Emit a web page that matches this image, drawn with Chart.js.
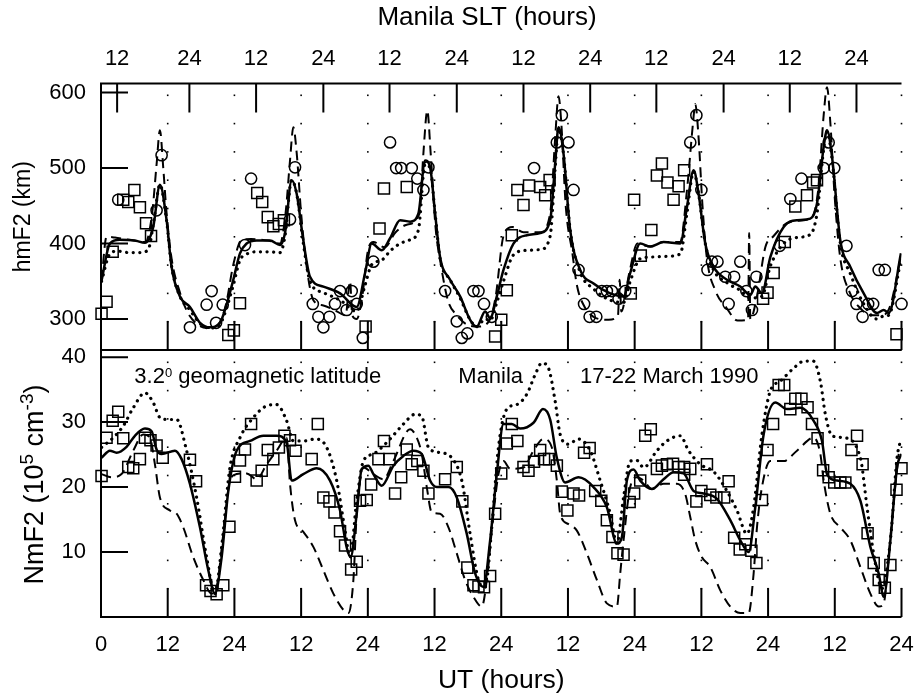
<!DOCTYPE html>
<html>
<head>
<meta charset="utf-8">
<script src="https://cdn.jsdelivr.net/npm/chart.js@4.4.1/dist/chart.umd.min.js"></script>
<style>
  html, body { margin: 0; padding: 0; background: #fff; }
  #wrap { position: relative; width: 917px; height: 697px; }
  canvas { position: absolute; left: 0; }
</style>
</head>
<body>
<div id="wrap">
  <canvas id="hmChart" width="917" height="360" style="top:0"></canvas>
  <canvas id="nmChart" width="917" height="357" style="top:340px"></canvas>
</div>
<script>
// axes
const utTicks = [0, 12, 24, 36, 48, 60, 72, 84, 96, 108, 120, 132, 144];
const utTickLabels = ["0", "12", "24", "12", "24", "12", "24", "12", "24", "12", "24", "12", "24"];
const sltTicksUT = [2.9, 15.9, 27.9, 40.0, 51.9, 64.0, 76.0, 88.0, 99.9, 112.0, 123.9, 135.9];
const sltTickLabels = ["12", "24", "12", "24", "12", "24", "12", "24", "12", "24", "12", "24"];
const gridHours = [12, 24, 36, 48, 60, 72, 84, 96, 108, 120, 132, 144];
const hmTicks = [300, 400, 500, 600];
const nmTicks = [10, 20, 30, 40];

// hmF2 (km) vs UT (hours)
const hmCircles = [[3.1,458],[10.0,444],[10.9,517],[16.0,289],[19.0,319],[19.9,337],[20.7,295],[21.9,319],[25.9,398],[27.0,486],[34.0,432],[34.9,501],[38.1,320],[39.1,303],[40.0,289],[41.1,303],[42.1,320],[43.0,337],[44.2,312],[45.1,337],[46.0,320],[47.1,275],[49.0,376],[52.0,534],[53.1,500],[54.0,500],[55.9,500],[56.9,486],[58.0,471],[58.9,501],[61.9,337],[64.0,297],[64.9,275],[65.9,281],[67.0,337],[67.9,337],[68.9,320],[70.3,303],[77.9,500],[82.0,534],[82.9,570],[84.1,534],[85.0,471],[85.9,365],[86.9,320],[87.9,303],[89.1,303],[90.1,337],[91.0,337],[91.9,337],[93.1,327],[94.3,337],[106.0,534],[107.1,570],[108.0,471],[109.1,365],[109.9,376],[110.9,376],[112.3,356],[112.9,320],[113.9,356],[115.0,376],[116.1,337],[117.1,312],[117.9,356],[122.1,397],[124.0,459],[126.0,486],[130.0,500],[130.9,534],[131.9,500],[134.1,397],[135.1,337],[135.9,320],[137.0,303],[138.0,320],[138.9,320],[139.9,365],[141.0,365],[144.0,320]];
const hmSquares = [[0.1,307],[1.0,323],[2.1,389],[4.0,458],[4.9,455],[6.0,471],[7.0,448],[8.1,427],[9.0,410],[22.9,279],[23.9,285],[25.0,321],[28.1,467],[29.0,455],[30.0,435],[31.0,423],[32.0,426],[32.9,431],[47.6,290],[50.1,420],[50.9,473],[55.0,475],[70.9,277],[72.0,299],[73.0,338],[73.9,411],[74.9,471],[76.0,451],[77.0,477],[79.0,475],[79.9,464],[80.7,484],[95.3,334],[95.9,458],[97.1,384],[99.0,418],[100.0,490],[100.9,506],[101.9,481],[103.0,458],[103.9,476],[104.9,497],[119.1,327],[119.9,335],[121.0,361],[123.0,402],[124.9,449],[127.0,464],[128.1,481],[128.8,484],[143.1,280]];
const hmSolid = [[0.1,351],[1.6,400],[3.4,405],[6.1,404],[7.9,401],[9.4,422],[10.6,478],[11.8,431],[12.7,369],[14.2,330],[16.0,316],[17.8,295],[19.6,289],[21.4,295],[22.3,312],[23.8,352],[25.0,387],[26.2,400],[28.0,404],[30.4,404],[32.2,398],[33.1,414],[34.3,484],[35.2,466],[36.4,404],[37.6,356],[40.0,343],[43.0,334],[46.0,316],[47.5,361],[48.7,400],[50.5,391],[52.0,407],[53.8,431],[55.6,429],[57.1,440],[58.3,510],[59.2,501],[60.1,440],[61.0,382],[62.8,352],[64.6,330],[66.4,299],[67.6,290],[69.1,310],[70.0,301],[71.2,330],[72.4,365],[74.2,400],[76.6,411],[79.0,414],[80.8,431],[81.7,506],[82.3,554],[83.2,519],[84.4,418],[86.2,365],[88.6,347],[91.6,334],[94.0,330],[95.2,361],[97.0,400],[98.8,396],[101.2,402],[104.2,400],[105.4,448],[106.6,497],[107.5,466],[108.7,400],[110.2,369],[112.6,352],[115.0,343],[116.8,332],[117.7,343],[118.9,334],[120.4,382],[122.8,422],[125.2,431],[127.6,433],[128.8,453],[130.0,528],[130.6,550],[131.5,515],[133.0,404],[134.8,369],[137.2,334],[139.6,308],[140.8,312],[141.7,308],[143.9,387]];
const hmDotted = [[0.1,350],[1.5,385],[3.0,390],[5.0,388],[7.0,388],[8.5,392],[9.5,430],[10.6,478],[11.8,430],[12.7,370],[14.2,330],[16.0,312],[17.8,294],[19.6,288],[21.4,293],[22.3,308],[23.8,345],[25.0,378],[26.2,386],[28.0,389],[30.4,389],[32.2,388],[33.1,410],[34.3,484],[35.2,466],[36.4,400],[37.6,350],[40.0,335],[43.0,325],[46.0,310],[47.5,345],[48.7,372],[50.5,378],[52.0,390],[53.8,400],[55.6,405],[57.1,418],[58.3,505],[59.2,500],[60.1,440],[61.0,380],[62.8,352],[64.6,328],[66.4,299],[67.6,290],[69.1,300],[70.0,298],[71.2,322],[72.4,350],[74.2,385],[76.6,391],[79.0,392],[80.8,410],[81.7,500],[82.3,552],[83.2,518],[84.4,418],[86.2,362],[88.6,340],[91.6,325],[94.0,322],[95.2,350],[97.0,380],[98.8,382],[101.2,383],[104.2,386],[105.4,440],[106.6,495],[107.5,466],[108.7,400],[110.2,365],[112.6,348],[115.0,338],[116.8,328],[118.9,330],[120.4,370],[122.8,400],[125.2,408],[127.6,412],[128.8,440],[130.0,525],[130.6,548],[131.5,512],[133.0,400],[134.8,360],[137.2,320],[139.6,300],[140.8,304],[141.7,305],[143.8,375]];
const hmDashed = [[0.1,352],[1.0,409],[2.5,408],[5.0,405],[8.0,402],[9.2,440],[10.0,505],[10.6,550],[11.2,500],[11.8,440],[12.7,380],[14.2,335],[15.5,310],[17.0,295],[19.0,288],[21.0,292],[22.5,320],[23.8,372],[25.3,405],[27.0,406],[30.0,404],[32.2,400],[33.2,440],[34.0,510],[34.6,554],[35.2,520],[36.0,440],[37.0,369],[38.2,325],[40.0,318],[42.0,312],[44.0,305],[44.8,350],[45.2,305],[46.0,300],[47.0,330],[48.0,390],[49.0,402],[51.0,395],[53.0,415],[55.0,425],[57.3,440],[58.0,520],[58.7,576],[59.3,520],[60.2,420],[61.0,378],[62.4,325],[64.0,305],[66.0,292],[68.0,290],[70.0,300],[71.0,330],[72.4,410],[74.0,422],[76.0,415],[79.0,415],[80.8,440],[81.7,540],[82.3,595],[82.8,560],[83.6,450],[84.8,387],[85.6,345],[87.0,316],[88.6,303],[91.3,299],[93.0,305],[93.3,352],[93.6,310],[95.0,360],[96.5,400],[98.8,396],[101.2,402],[104.2,402],[105.4,470],[106.5,560],[106.9,585],[107.5,540],[108.2,450],[109.0,380],[110.5,338],[112.5,315],[114.5,298],[116.4,299],[116.6,414],[116.8,300],[118.0,330],[119.5,395],[121.0,410],[123.0,425],[125.0,430],[127.6,433],[129.0,470],[130.0,570],[130.6,607],[131.2,560],[132.0,460],[133.0,380],[134.7,335],[136.5,315],[138.5,305],[140.5,305],[142.0,318],[143.8,380]];

// NmF2 (10^5 cm^-3) vs UT (hours)
const nmSquares = [[0.1,21.7],[1.0,27.6],[2.1,30.2],[3.1,31.6],[4.0,27.5],[4.9,23.1],[5.8,22.9],[7.0,24.3],[7.9,27.6],[8.9,27.2],[10.0,26.4],[11.1,24.5],[16.0,24.2],[17.1,20.9],[18.9,4.9],[19.7,4.0],[20.8,3.5],[22.0,4.9],[23.1,13.9],[24.1,21.6],[25.0,24.1],[25.9,25.8],[27.0,29.7],[28.0,21.0],[28.9,22.5],[30.0,25.7],[31.0,24.3],[32.0,26.1],[33.0,27.9],[34.0,27.2],[35.0,25.6],[37.9,24.3],[39.0,29.7],[40.0,18.4],[41.1,17.8],[42.0,16.1],[43.0,13.2],[43.9,11.0],[45.0,7.3],[46.0,8.5],[46.6,17.9],[47.8,18.0],[48.6,20.4],[49.9,24.3],[50.9,27.1],[51.9,24.3],[52.9,19.0],[54.0,21.5],[55.0,25.8],[55.9,23.5],[56.9,24.0],[58.0,22.5],[58.9,19.0],[61.9,21.2],[64.0,23.1],[65.0,17.8],[65.9,7.6],[67.0,4.9],[67.9,4.7],[68.9,4.6],[70.0,6.3],[70.9,15.9],[72.0,22.1],[73.0,26.7],[73.9,29.7],[74.9,27.1],[76.0,23.1],[76.9,22.5],[77.9,23.9],[79.0,25.7],[79.7,24.3],[80.6,24.3],[82.0,23.3],[82.9,19.3],[83.9,16.4],[85.0,19.0],[86.0,18.7],[86.9,25.3],[87.9,26.0],[88.9,19.4],[90.0,17.9],[91.0,14.9],[92.0,12.3],[92.9,9.8],[94.0,9.6],[95.1,17.7],[95.9,19.0],[97.0,21.0],[97.9,27.9],[98.9,28.9],[100.0,22.8],[100.9,23.3],[101.8,23.5],[102.9,23.6],[103.9,23.1],[104.9,23.1],[104.9,21.9],[106.0,22.8],[107.1,17.8],[108.0,19.4],[109.0,23.5],[109.6,18.8],[110.7,18.4],[112.1,18.4],[112.9,20.9],[113.9,12.2],[114.9,10.4],[115.9,11.2],[117.0,10.2],[117.9,8.3],[118.9,18.0],[119.9,25.7],[120.9,29.7],[121.9,35.7],[122.9,35.7],[124.0,32.0],[124.9,33.6],[126.0,33.6],[127.1,32.3],[127.9,29.7],[128.9,27.5],[129.9,22.6],[130.9,21.5],[131.9,20.7],[133.0,20.7],[133.9,20.7],[135.0,25.7],[136.0,27.9],[137.0,23.5],[137.9,12.9],[139.0,8.3],[139.9,5.7],[141.0,4.5],[142.0,8.0],[143.1,19.6],[144.0,22.9]];
const nmSolid = [[0.1,24.5],[1.6,25.6],[2.8,25.3],[4.6,26.2],[6.1,27.9],[7.9,29.0],[9.1,28.6],[10.0,25.8],[10.9,25.1],[13.3,25.6],[14.5,24.3],[16.0,20.5],[17.8,13.8],[19.3,7.2],[20.5,3.6],[21.7,9.2],[22.9,19.4],[24.4,25.6],[26.8,27.1],[29.2,27.9],[31.6,27.9],[33.4,26.8],[34.3,21.0],[36.4,22.0],[38.8,22.9],[41.2,21.0],[43.0,16.4],[44.2,10.7],[44.9,9.2],[46.0,15.9],[46.9,22.8],[48.1,23.3],[49.0,22.0],[50.5,20.2],[52.6,23.3],[54.4,24.8],[56.2,25.6],[57.7,25.1],[59.2,21.0],[60.4,20.0],[62.5,20.0],[64.0,18.4],[65.8,12.8],[67.3,6.7],[68.8,4.6],[70.0,11.8],[71.2,22.0],[72.4,29.7],[73.9,29.7],[75.4,29.0],[77.8,29.9],[79.5,32.0],[80.8,30.4],[82.0,24.5],[83.5,20.7],[85.9,21.5],[88.6,20.0],[91.0,16.9],[92.8,11.3],[93.7,12.3],[94.6,21.0],[95.8,22.7],[97.0,21.0],[99.1,19.7],[101.2,21.2],[103.0,22.3],[104.8,22.1],[106.6,19.4],[108.4,19.0],[110.8,18.2],[113.2,14.9],[115.0,11.8],[116.5,10.0],[117.7,16.9],[119.2,28.1],[121.3,33.0],[123.4,32.0],[125.8,32.2],[128.2,30.2],[129.7,27.1],[130.6,22.0],[132.4,21.0],[134.8,20.5],[136.6,17.9],[138.4,10.8],[139.9,6.7],[140.8,3.1],[142.0,11.8],[143.2,23.0],[144.0,25.1]];
const nmDotted = [[0.1,26.1],[2.2,27.6],[4.0,29.4],[5.8,32.2],[7.9,34.5],[9.4,33.0],[10.6,30.7],[12.1,30.4],[13.6,30.4],[15.4,25.6],[17.2,18.4],[19.0,9.2],[20.5,3.6],[21.7,10.8],[23.2,23.0],[25.0,27.6],[27.4,30.7],[29.8,32.5],[31.6,32.7],[33.4,30.2],[34.6,27.1],[36.7,27.1],[38.5,27.4],[40.6,26.1],[42.4,21.0],[43.9,13.3],[44.8,9.2],[46.0,17.9],[47.2,24.0],[49.0,25.1],[52.0,27.4],[54.4,29.7],[56.5,31.2],[57.7,30.9],[58.9,26.1],[61.0,25.3],[63.1,24.5],[64.9,21.0],[66.4,12.8],[67.9,5.7],[69.1,4.6],[70.3,13.8],[71.5,26.1],[73.0,32.0],[74.8,32.7],[76.6,34.3],[78.1,37.3],[79.3,39.1],[80.5,38.3],[81.7,33.2],[82.6,28.1],[84.1,26.6],[85.9,27.4],[88.0,25.6],[89.8,21.0],[91.6,15.9],[92.8,11.3],[94.0,18.4],[95.2,24.0],[96.4,24.1],[97.6,23.0],[100.0,25.6],[101.8,27.1],[104.2,27.9],[105.7,25.6],[107.8,23.5],[110.3,22.3],[112.6,19.4],[114.4,16.4],[116.2,12.8],[117.4,16.9],[118.9,28.1],[120.4,34.8],[122.2,36.3],[124.6,38.3],[126.5,39.4],[128.1,39.4],[129.4,36.3],[130.3,31.2],[131.5,27.9],[133.6,27.6],[136.6,24.5],[137.8,16.9],[139.0,9.7],[140.5,4.4],[142.0,11.8],[143.2,24.5],[143.8,27.1]];
const nmDashed = [[0.1,22.0],[1.9,21.5],[3.7,22.0],[5.8,25.6],[7.6,28.1],[8.8,27.6],[9.7,23.5],[10.6,18.4],[12.4,16.4],[13.6,15.9],[14.8,13.8],[16.6,9.2],[18.4,5.7],[19.9,3.6],[20.8,4.6],[22.0,12.8],[23.2,21.0],[24.4,22.0],[26.2,22.1],[28.0,21.2],[29.8,23.5],[31.6,25.6],[33.4,27.6],[34.0,20.5],[34.9,14.9],[36.4,13.1],[38.2,10.8],[40.0,7.2],[41.8,3.6],[43.6,1.1],[44.5,0.6],[45.4,5.7],[46.0,15.9],[46.6,21.0],[47.2,23.0],[49.0,22.0],[50.8,21.2],[52.6,24.0],[55.6,28.9],[56.8,27.6],[57.7,25.1],[58.6,20.0],[59.5,16.1],[61.0,15.9],[62.5,13.8],[64.0,9.8],[65.5,5.7],[67.0,3.1],[68.5,1.6],[69.4,5.7],[70.6,15.9],[71.5,22.0],[72.4,24.0],[73.6,22.8],[76.0,23.0],[77.8,25.6],[79.6,27.4],[81.1,26.1],[82.0,21.0],[82.6,15.9],[84.1,14.3],[85.6,13.3],[87.4,9.8],[89.2,5.7],[91.0,2.1],[92.8,1.6],[93.4,6.7],[94.0,11.8],[95.2,20.0],[96.4,21.5],[97.6,21.0],[99.1,19.7],[101.2,20.5],[103.6,20.5],[105.1,18.9],[106.0,15.4],[106.9,11.8],[108.1,9.2],[109.6,7.7],[111.4,4.1],[113.2,1.6],[115.0,0.6],[116.5,0.6],[117.4,6.7],[118.0,13.8],[118.9,20.0],[120.4,24.0],[122.8,24.0],[125.2,25.6],[128.2,27.6],[129.4,25.1],[130.0,21.0],[131.2,15.9],[133.0,13.8],[134.8,11.8],[136.6,7.7],[138.4,3.6],[139.9,1.6],[140.8,2.1],[141.7,9.2],[142.6,17.9],[143.5,25.1]];

const FONT = "'Liberation Sans', Arial, Helvetica, sans-serif";
Chart.defaults.font.family = FONT;
Chart.defaults.color = "#000";
Chart.defaults.animation = false;

const pts = arr => arr.map(([x, y]) => ({ x, y }));

function curve(arr, kind) {
  const ds = {
    data: pts(arr), showLine: true, borderColor: "#000", borderWidth: 2.5,
    pointRadius: 0, fill: false, cubicInterpolationMode: "monotone"
  };
  if (kind === "dot") { ds.borderDash = [0.1, 6.5]; ds.borderWidth = 3.2; ds.borderCapStyle = "round"; }
  if (kind === "dash") { ds.borderDash = [10, 6]; ds.borderWidth = 2; }
  return ds;
}

function marks(arr, style) {
  return {
    data: pts(arr), showLine: false, pointStyle: style,
    pointRadius: style === "rect" ? 7.8 : 5.6, pointBorderWidth: 1.5,
    pointBorderColor: "#000", pointBackgroundColor: "rgba(0,0,0,0)", clip: false
  };
}

// keep the plot box where the reference has it: no label overflow padding
const noPadX = s => { s.paddingLeft = 0; s.paddingRight = 0; };
const noPadY = s => { s.paddingTop = 0; s.paddingBottom = 0; };

// draws a run of [text, size, raise] pieces from x along the baseline
function drawRun(ctx, pieces, x, base) {
  pieces.forEach(([t, size, raise]) => {
    ctx.font = size + "px " + FONT;
    ctx.fillText(t, x, base - raise);
    x += ctx.measureText(t).width;
  });
  return x;
}
function runWidth(ctx, pieces) {
  return pieces.reduce((w, [t, size]) => { ctx.font = size + "px " + FONT; return w + ctx.measureText(t).width; }, 0);
}

// frame, inward ticks, dotted grid and texts
const framePlugin = {
  id: "frame",
  beforeDatasetsDraw(chart, args, o) {
    const { ctx, chartArea: a, scales } = chart;
    ctx.save();
    ctx.fillStyle = "#000";
    gridHours.forEach(h => {
      const x = scales.x.getPixelForValue(h);
      for (let y = a.bottom - 28.3; y > a.top + 3; y -= 28.3) ctx.fillRect(x - 0.8, y - 0.8, 1.6, 1.6);
    });
    ctx.restore();
  },
  afterDatasetsDraw(chart, args, o) {
    const { ctx, chartArea: a, scales } = chart;
    ctx.save();
    ctx.strokeStyle = "#000";
    ctx.lineWidth = 2;
    ctx.beginPath();
    ctx.moveTo(a.right, a.top); ctx.lineTo(a.left, a.top);
    ctx.lineTo(a.left, a.bottom); ctx.lineTo(a.right, a.bottom);
    o.yTicks.forEach(v => {
      const y = scales.y.getPixelForValue(v);
      ctx.moveTo(a.left, y); ctx.lineTo(a.left + 27, y);
    });
    gridHours.forEach(h => {
      const x = scales.x.getPixelForValue(h);
      ctx.moveTo(x, a.bottom); ctx.lineTo(x, a.bottom - 29);
    });
    if (o.topTicks) {
      o.topTicks.forEach(h => {
        const x = scales.x.getPixelForValue(h);
        ctx.moveTo(x, a.top); ctx.lineTo(x, a.top + 29);
      });
    }
    ctx.stroke();

    ctx.fillStyle = "#000";
    if (o.topTitle) {
      ctx.font = "26px " + FONT;
      ctx.textAlign = "center";
      ctx.textBaseline = "middle";
      ctx.fillText(o.topTitle, 487, 18);
    }
    if (o.notes) {
      ctx.textAlign = "left";
      ctx.textBaseline = "alphabetic";
      const base = a.top + 32.7;
      drawRun(ctx, [["3.2", 22, 0], ["0", 13, 6], [" geomagnetic latitude", 22, 0]], 134.3, base);
      drawRun(ctx, [["Manila", 22, 0]], 458.3, base);
      drawRun(ctx, [["17-22 March 1990", 22, 0]], 580, base);
    }
    if (o.yTitle) {
      // NmF2 (10^5 cm^-3) with raised exponents, read bottom to top
      const pieces = [["NmF2 (10", 27, 0], ["5", 19, 10], [" cm", 27, 0], ["-3", 19, 10], [")", 27, 0]];
      ctx.textAlign = "left";
      ctx.textBaseline = "alphabetic";
      const w = runWidth(ctx, pieces);
      ctx.translate(42.7, (a.top + a.bottom) / 2 + 1);
      ctx.rotate(-Math.PI / 2);
      drawRun(ctx, pieces, -w / 2, 0);
    }
    ctx.restore();
  }
};

// top panel: hmF2
new Chart(document.getElementById("hmChart"), {
  type: "scatter",
  data: {
    datasets: [
      curve(hmSolid, "solid"),
      curve(hmDashed, "dash"),
      curve(hmDotted, "dot"),
      marks(hmCircles, "circle"),
      marks(hmSquares, "rect")
    ]
  },
  options: {
    responsive: false,
    events: [],
    layout: { padding: { left: 0, right: 15.5, top: 0, bottom: 10 } },
    plugins: {
      legend: { display: false },
      tooltip: { enabled: false },
      frame: { yTicks: hmTicks, topTicks: sltTicksUT, topTitle: "Manila SLT (hours)" }
    },
    scales: {
      x: { type: "linear", min: 0, max: 144, display: false },
      x2: {
        type: "linear", position: "top", min: 0, max: 144,
        grid: { display: false, drawTicks: false }, border: { display: false },
        afterBuildTicks: s => { s.ticks = sltTicksUT.map(v => ({ value: v })); },
        ticks: { autoSkip: false, maxRotation: 0, padding: 11, font: { size: 22 },
                 callback: (v, i) => sltTickLabels[i] },
        afterFit: s => { s.height = 83.5; noPadX(s); }
      },
      y: {
        type: "linear", min: 259, max: 612,
        grid: { display: false, drawTicks: false }, border: { display: false },
        afterBuildTicks: s => { s.ticks = hmTicks.map(v => ({ value: v })); },
        ticks: { padding: 15, font: { size: 22 } },
        title: { display: true, text: "hmF2 (km)", font: { size: 23 }, padding: { top: 10, bottom: 0 } },
        afterFit: s => { s.width = 101; noPadY(s); }
      }
    }
  },
  plugins: [framePlugin]
});

// bottom panel: NmF2
new Chart(document.getElementById("nmChart"), {
  type: "scatter",
  data: {
    datasets: [
      curve(nmSolid, "solid"),
      curve(nmDashed, "dash"),
      curve(nmDotted, "dot"),
      marks(nmSquares, "rect")
    ]
  },
  options: {
    responsive: false,
    events: [],
    layout: { padding: { left: 0, right: 15.5, top: 10, bottom: 0 } },
    plugins: {
      legend: { display: false },
      tooltip: { enabled: false },
      frame: { yTicks: nmTicks, notes: true, yTitle: true }
    },
    scales: {
      x: {
        type: "linear", position: "bottom", min: 0, max: 144,
        grid: { display: false, drawTicks: false }, border: { display: false },
        afterBuildTicks: s => { s.ticks = utTicks.map(v => ({ value: v })); },
        ticks: { autoSkip: false, maxRotation: 0, padding: 15, font: { size: 22 },
                 callback: (v, i) => utTickLabels[i] },
        title: { display: true, text: "UT (hours)", font: { size: 26.5 }, padding: { top: 0, bottom: 0 } },
        afterFit: s => { s.height = 80; noPadX(s); }
      },
      y: {
        type: "linear", min: 0, max: 41.1,
        grid: { display: false, drawTicks: false }, border: { display: false },
        afterBuildTicks: s => { s.ticks = nmTicks.map(v => ({ value: v })); },
        ticks: { padding: 15, font: { size: 22 } },
        afterFit: s => { s.width = 101; noPadY(s); }
      }
    }
  },
  plugins: [framePlugin]
});
</script>
</body>
</html>
